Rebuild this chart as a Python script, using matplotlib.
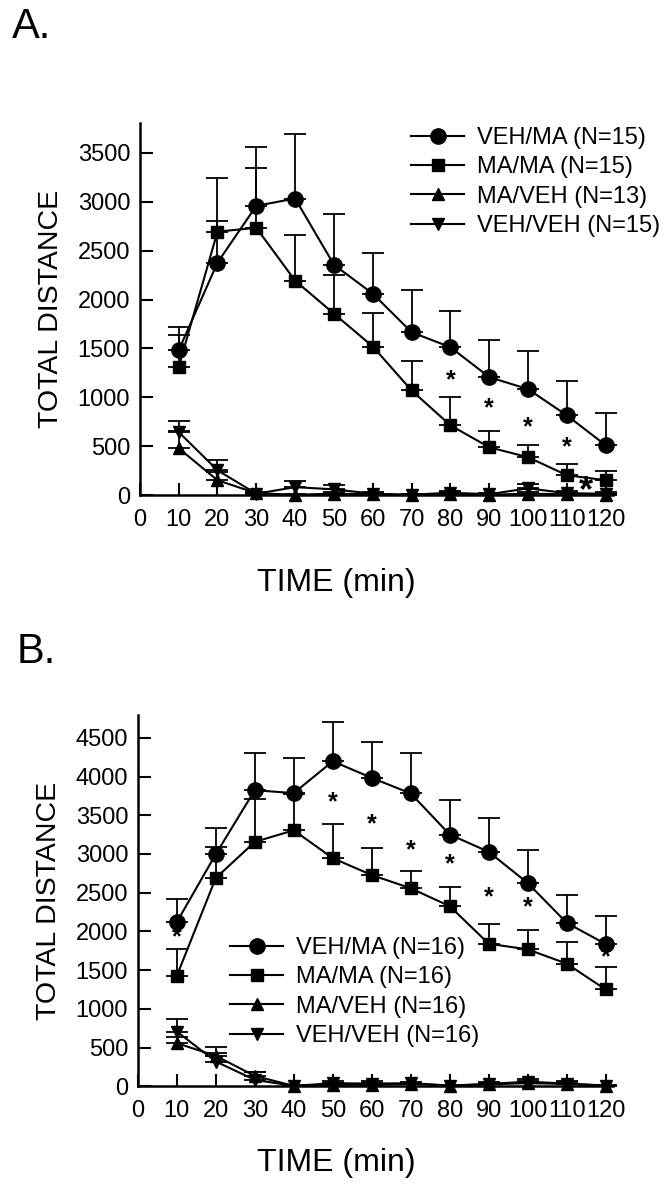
import matplotlib
matplotlib.use('Agg')
import matplotlib.pyplot as plt
from matplotlib.lines import Line2D

plt.rcParams['font.family'] = ['Liberation Sans', 'DejaVu Sans']

# time points (min)
time = [10, 20, 30, 40, 50, 60, 70, 80, 90, 100, 110, 120]
xticks = [0, 10, 20, 30, 40, 50, 60, 70, 80, 90, 100, 110, 120]

# Panel A - means and (upper) error
a_vehma = [1480, 2377, 2958, 3033, 2356, 2060, 1666, 1513, 1207, 1084, 816, 510]
a_vehma_err = [240, 868, 602, 657, 520, 420, 434, 367, 384, 385, 347, 326]
a_mama = [1310, 2694, 2734, 2193, 1856, 1520, 1071, 714, 490, 388, 204, 153]
a_mama_err = [330, 111, 616, 467, 399, 347, 296, 286, 163, 122, 112, 95]
a_maveh = [480, 153, 20, 5, 15, 10, 0, 15, 5, 15, 10, 0]
a_maveh_err = [180, 80, 15, 10, 15, 10, 10, 15, 10, 15, 10, 10]
a_vehveh = [646, 255, 15, 82, 60, 15, 5, 25, 10, 70, 20, 15]
a_vehveh_err = [109, 102, 15, 61, 42, 15, 10, 20, 15, 42, 20, 15]
a_labels = ['VEH/MA (N=15)', 'MA/MA (N=15)', 'MA/VEH (N=13)', 'VEH/VEH (N=15)']
a_star_x = [80, 90, 100, 110]
a_star_y = [1170, 888, 697, 493]
a_yticks = [0, 500, 1000, 1500, 2000, 2500, 3000, 3500]

# Panel B
b_vehma = [2120, 2998, 3824, 3786, 4197, 3983, 3782, 3251, 3028, 2625, 2111, 1837]
b_vehma_err = [300, 334, 485, 450, 510, 467, 523, 445, 442, 428, 360, 360]
b_mama = [1426, 2690, 3156, 3306, 2946, 2728, 2557, 2326, 1841, 1768, 1584, 1250]
b_mama_err = [342, 402, 549, 474, 437, 343, 223, 248, 249, 244, 279, 292]
b_maveh = [557, 393, 134, 5, 20, 20, 30, 10, 25, 40, 30, 10]
b_maveh_err = [85, 40, 50, 10, 20, 20, 15, 10, 15, 30, 20, 10]
b_vehveh = [707, 320, 83, 5, 40, 35, 40, 10, 30, 60, 35, 10]
b_vehveh_err = [160, 193, 107, 10, 34, 35, 20, 10, 20, 32, 35, 10]
b_labels = ['VEH/MA (N=16)', 'MA/MA (N=16)', 'MA/VEH (N=16)', 'VEH/VEH (N=16)']
b_star_x = [10, 50, 60, 70, 80, 90, 100, 120]
b_star_y = [1930, 3670, 3383, 3053, 2870, 2442, 2313, 1660]
b_yticks = [0, 500, 1000, 1500, 2000, 2500, 3000, 3500, 4000, 4500]

markers = ['o', 's', '^', 'v']
msizes = [11, 8.5, 9, 9]


def panel(ax, series, errs, ymax, yticks, star_x, star_y):
    for y, e, m, ms in zip(series, errs, markers, msizes):
        ax.errorbar(time, y, yerr=[[0] * len(e), e], fmt='-', color='black',
                    marker=m, markersize=ms, linewidth=1.5, elinewidth=1.3,
                    capsize=8, capthick=1.3, clip_on=False)
    for sx, sy in zip(star_x, star_y):
        ax.text(sx, sy, '*', ha='center', va='center', fontsize=18,
                fontweight='bold')
    ax.set_xlim(0, 122)
    ax.set_ylim(0, ymax)
    ax.set_xticks(xticks)
    ax.set_yticks(yticks)
    ax.spines['top'].set_visible(False)
    ax.spines['right'].set_visible(False)
    ax.spines['left'].set_linewidth(1.8)
    ax.spines['bottom'].set_linewidth(1.8)
    ax.tick_params(direction='in', length=9, width=1.5, labelsize=17)
    ax.tick_params(axis='x', pad=10)
    ax.tick_params(axis='y', pad=7)
    ax.set_ylabel('TOTAL DISTANCE', fontsize=20.5, labelpad=10)


def legend_handles(labels):
    hs = []
    for m, ms, lab in zip(markers, msizes, labels):
        hs.append(Line2D([0], [0], color='black', marker=m, markersize=ms,
                         linewidth=1.5, label=lab))
    return hs


fig = plt.figure(figsize=(6.69, 11.99), dpi=100)

axA = fig.add_axes([0.209, 0.587, 0.708, 0.310])
panel(axA, [a_vehma, a_mama, a_maveh, a_vehveh],
      [a_vehma_err, a_mama_err, a_maveh_err, a_vehveh_err],
      3800, a_yticks, a_star_x, a_star_y)
axA.text(115, 34, '*', ha='center', va='center', fontsize=26, fontweight='bold')
fig.legend(handles=legend_handles(a_labels), loc='upper left',
           bbox_to_anchor=(411 / 669, 1 - 127 / 1199), frameon=False,
           fontsize=17, handlelength=2.25, handletextpad=0.55,
           labelspacing=0.31, borderpad=0, borderaxespad=0)

axB = fig.add_axes([0.206, 0.094, 0.711, 0.310])
panel(axB, [b_vehma, b_mama, b_maveh, b_vehveh],
      [b_vehma_err, b_mama_err, b_maveh_err, b_vehveh_err],
      4800, b_yticks, b_star_x, b_star_y)
fig.legend(handles=legend_handles(b_labels), loc='upper left',
           bbox_to_anchor=(230 / 669, 1 - 937 / 1199), frameon=False,
           fontsize=17, handlelength=2.25, handletextpad=0.55,
           labelspacing=0.31, borderpad=0, borderaxespad=0)

fig.text(336 / 669, 1 - 583 / 1199, 'TIME (min)', fontsize=23,
         ha='center', va='center')
fig.text(336 / 669, 1 - 1163 / 1199, 'TIME (min)', fontsize=23,
         ha='center', va='center')
fig.text(12 / 669, 1 - 38 / 1199, 'A.', fontsize=30, ha='left', va='baseline')
fig.text(17 / 669, 1 - 663 / 1199, 'B.', fontsize=30, ha='left', va='baseline')

fig.savefig('out.png', dpi=100)
